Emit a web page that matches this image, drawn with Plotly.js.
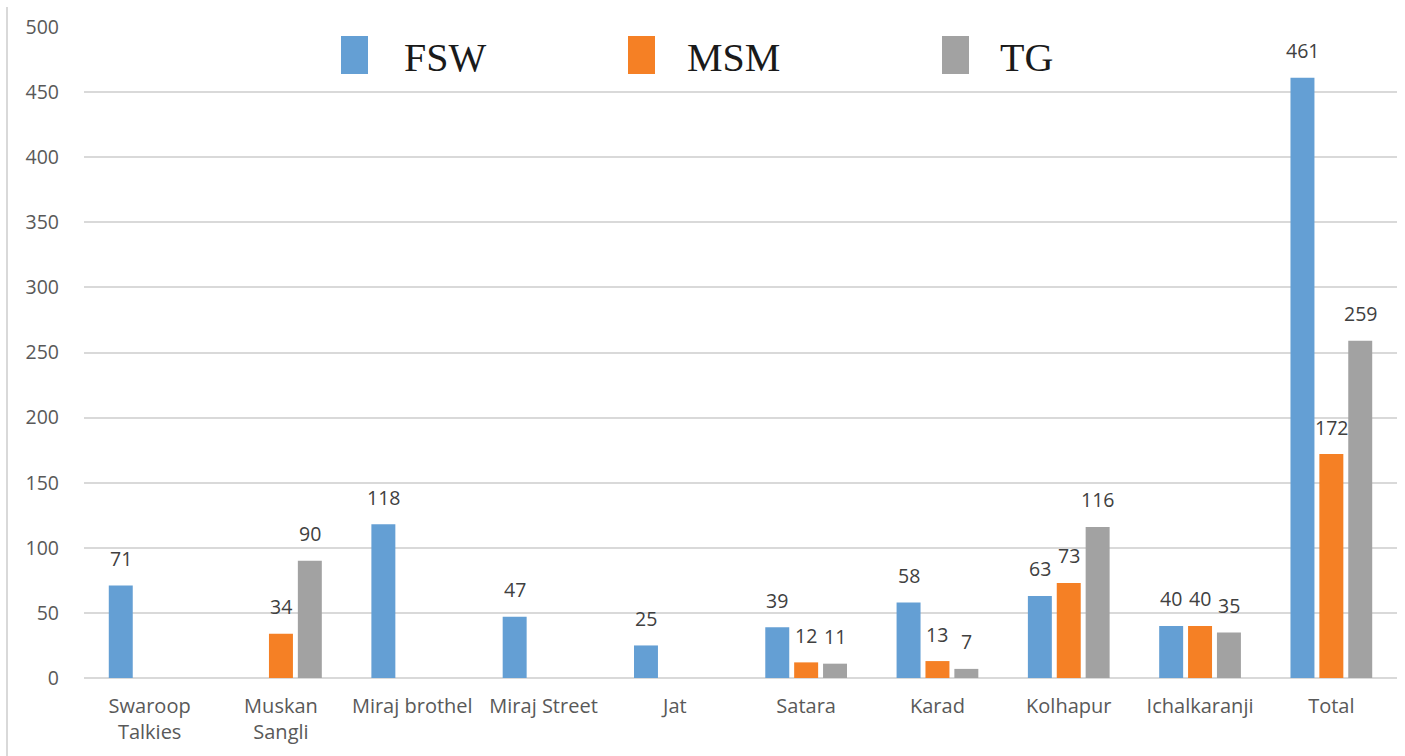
<!DOCTYPE html>
<html>
<head>
<meta charset="utf-8">
<script src="https://cdn.plot.ly/plotly-3.0.1.min.js"></script>
<style>html,body{margin:0;padding:0;background:#fff;}#chart{width:1405px;height:756px;}</style>
</head>
<body>
<div id="chart"></div>
<script>
const categories = ["Swaroop<br>Talkies", "Muskan<br>Sangli", "Miraj brothel", "Miraj Street", "Jat", "Satara", "Karad", "Kolhapur", "Ichalkaranji", "Total"];
const seriesNames = ["FSW", "MSM", "TG"];
const fsw = [71, null, 118, 47, 25, 39, 58, 63, 40, 461];
const msm = [null, 34, null, null, null, 12, 13, 73, 40, 172];
const tg  = [null, 90, null, null, null, 11, 7, 116, 35, 259];
const yTicks = [0, 50, 100, 150, 200, 250, 300, 350, 400, 450, 500];

const colors = ["#649fd4", "#f58025", "#a2a2a2"];
const series = [fsw, msm, tg];

const W = 1405, H = 756;
const M = {l: 84, r: 8, t: 27, b: 78};
const PW = W - M.l - M.r, PH = H - M.t - M.b;
const px2x = p => (p - M.l) / PW;
const px2y = p => (H - M.b - p) / PH;

const bargap = 0.34;
const catPx = PW / categories.length;
const slotPx = catPx * (1 - bargap) / 3;

const traces = series.map((vals, i) => ({
  type: "bar",
  name: seriesNames[i],
  x: categories,
  y: vals,
  marker: {color: colors[i]},
  showlegend: false,
  hoverinfo: "x+y+name"
}));

const annotations = [];
series.forEach((vals, i) => {
  vals.forEach((v, j) => {
    if (v === null) return;
    annotations.push({
      x: categories[j], y: v, xref: "x", yref: "y",
      text: String(v), showarrow: false,
      xshift: (i - 1) * slotPx, yshift: 27,
      font: {family: "Open Sans, sans-serif", size: 19.5, color: "#404040"}
    });
  });
});

// custom legend (large square swatches + serif labels)
const legendSwatchX = [341, 628, 942];
const legendTextX = [402, 685, 998];
const shapes = [];
seriesNames.forEach((n, i) => {
  shapes.push({
    type: "rect", xref: "paper", yref: "paper",
    x0: px2x(legendSwatchX[i]), x1: px2x(legendSwatchX[i] + 27),
    y0: px2y(74), y1: px2y(36),
    fillcolor: colors[i], line: {width: 0}
  });
  annotations.push({
    xref: "paper", yref: "paper", x: px2x(legendTextX[i]), y: px2y(57),
    xanchor: "left", yanchor: "middle", showarrow: false, text: n,
    font: {family: "Liberation Serif, Times New Roman, serif", size: 40, color: "#1a1a1a"}
  });
});
// left border line
shapes.push({
  type: "line", xref: "paper", yref: "paper",
  x0: px2x(7), x1: px2x(7), y0: px2y(7), y1: px2y(H),
  line: {color: "#d9d9d9", width: 2}
});

const layout = {
  width: W, height: H,
  margin: M,
  paper_bgcolor: "#fff", plot_bgcolor: "#fff",
  barmode: "group",
  bargap: bargap,
  bargroupgap: 0.17,
  font: {family: "Open Sans, sans-serif", color: "#595959"},
  xaxis: {
    type: "category",
    tickfont: {size: 20, color: "#595959"},
    showgrid: false, zeroline: false, showline: false,
    ticks: "", ticklabelstandoff: 14,
    tickangle: 0
  },
  yaxis: {
    range: [0, 500],
    tickvals: yTicks,
    ticktext: yTicks.map(String),
    tickfont: {size: 19.5, color: "#595959"},
    showgrid: true, gridcolor: "#d9d9d9", gridwidth: 1.5,
    zeroline: true, zerolinecolor: "#d9d9d9", zerolinewidth: 1.5,
    showline: false, ticks: "", ticklabelstandoff: 24
  },
  shapes: shapes,
  annotations: annotations,
  showlegend: false
};

Plotly.newPlot("chart", traces, layout, {displayModeBar: false, staticPlot: false});
</script>
</body>
</html>
